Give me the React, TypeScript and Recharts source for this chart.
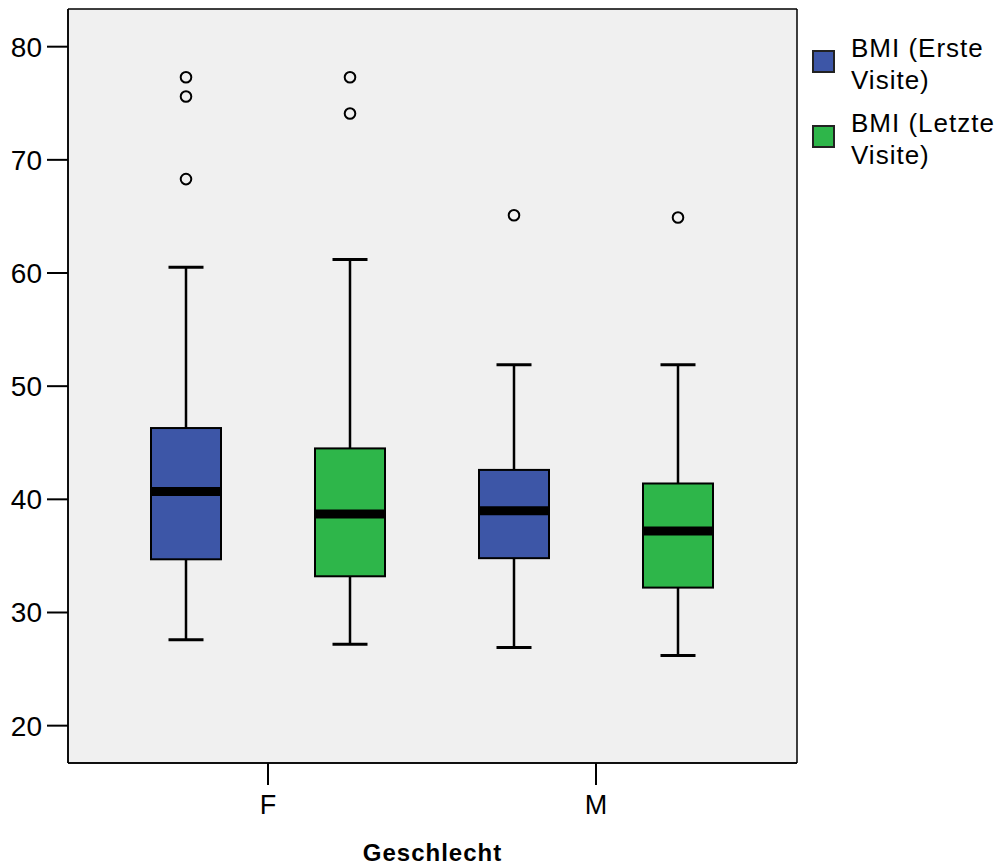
import React from 'react';
import { ComposedChart, Bar, XAxis, YAxis, CartesianGrid } from 'recharts';

// Geschlecht categories
const categories = ['F', 'M'];

// BMI (Erste Visite)
const ersteMin = [27.6, 26.9];
const ersteQ1 = [34.7, 34.8];
const ersteMedian = [40.7, 39.0];
const ersteQ3 = [46.3, 42.6];
const ersteMax = [60.5, 51.9];
const ersteOutliers = [[77.3, 75.6, 68.3], [65.1]];

// BMI (Letzte Visite)
const letzteMin = [27.2, 26.2];
const letzteQ1 = [33.2, 32.2];
const letzteMedian = [38.7, 37.2];
const letzteQ3 = [44.5, 41.4];
const letzteMax = [61.2, 51.9];
const letzteOutliers = [[77.3, 74.1], [64.9]];

const yTicks = [20, 30, 40, 50, 60, 70, 80];

const series = [
  { key: 'erste', label: ['BMI (Erste', 'Visite)'], color: '#3D56A7' },
  { key: 'letzte', label: ['BMI (Letzte', 'Visite)'], color: '#2EB64A' },
];

const FONT = '"Liberation Sans", Arial, sans-serif';

const stats = (min: number[], q1: number[], med: number[], q3: number[], max: number[], out: number[][], i: number) => ({
  min: min[i], q1: q1[i], median: med[i], q3: q3[i], max: max[i], outliers: out[i],
});

const data = categories.map((name, i) => {
  const erste = stats(ersteMin, ersteQ1, ersteMedian, ersteQ3, ersteMax, ersteOutliers, i);
  const letzte = stats(letzteMin, letzteQ1, letzteMedian, letzteQ3, letzteMax, letzteOutliers, i);
  return {
    name,
    erste,
    letzte,
    ersteRange: [erste.min, erste.max],
    letzteRange: [letzte.min, letzte.max],
  };
});

// draws one box plot; the bar spans min..max so values map linearly inside it
const BoxShape = (props: any) => {
  const { x, y, width, height, payload, seriesKey, fill } = props;
  const s = payload[seriesKey];
  const top = Math.min(y, y + height);
  const h = Math.abs(height);
  const py = (v: number) => top + ((s.max - v) * h) / (s.max - s.min);
  const cx = x + width / 2;
  const cap = width / 4;
  return (
    <g>
      <line x1={cx} x2={cx} y1={py(s.max)} y2={py(s.min)} stroke="#000" strokeWidth={2.5} />
      <line x1={cx - cap} x2={cx + cap} y1={py(s.max)} y2={py(s.max)} stroke="#000" strokeWidth={3} />
      <line x1={cx - cap} x2={cx + cap} y1={py(s.min)} y2={py(s.min)} stroke="#000" strokeWidth={3} />
      <rect x={x} y={py(s.q3)} width={width} height={py(s.q1) - py(s.q3)} fill={fill} stroke="#000" strokeWidth={2} />
      <line x1={x} x2={x + width} y1={py(s.median)} y2={py(s.median)} stroke="#000" strokeWidth={9} />
      {s.outliers.map((o: number, k: number) => (
        <circle key={k} cx={cx} cy={py(o)} r={5.3} fill="none" stroke="#000" strokeWidth={2} />
      ))}
    </g>
  );
};

const App = () => {
  return (
    <div style={{ position: 'absolute', left: 0, top: 0, width: 1004, height: 865, overflow: 'hidden', background: '#fff', fontFamily: FONT }}>
      <ComposedChart
        width={1004}
        height={865}
        data={data}
        barSize={70}
        barGap={94}
        margin={{ top: 9, right: 207, left: 0, bottom: 0 }}
      >
        <CartesianGrid
          fill="#F0F0F0"
          stroke="#000"
          strokeWidth={1.5}
          horizontalCoordinatesGenerator={({ offset }: any) => [offset.top, offset.top + offset.height]}
          verticalCoordinatesGenerator={({ offset }: any) => [offset.left, offset.left + offset.width]}
        />
        <XAxis
          dataKey="name"
          type="category"
          padding={{ left: 36, right: 37 }}
          height={102}
          tickSize={22}
          tickMargin={10}
          interval={0}
          axisLine={{ stroke: '#000', strokeWidth: 1.5 }}
          tickLine={{ stroke: '#000', strokeWidth: 2 }}
          tick={{ fill: '#000', fontSize: 27, fontFamily: FONT }}
          label={{ value: 'Geschlecht', position: 'insideBottom', offset: 4, fill: '#000', fontSize: 24, fontWeight: 'bold', fontFamily: FONT, letterSpacing: 1 }}
        />
        <YAxis
          type="number"
          domain={[16.7, 83.33]}
          allowDataOverflow
          ticks={yTicks}
          width={68}
          tickSize={21}
          tickMargin={5}
          axisLine={{ stroke: '#000', strokeWidth: 1.5 }}
          tickLine={{ stroke: '#000', strokeWidth: 2 }}
          tick={{ fill: '#000', fontSize: 28, fontFamily: FONT }}
        />
        {series.map((s) => (
          <Bar
            key={s.key}
            dataKey={`${s.key}Range`}
            fill={s.color}
            isAnimationActive={false}
            shape={(p: any) => <BoxShape {...p} seriesKey={s.key} fill={s.color} />}
          />
        ))}
      </ComposedChart>
      <div style={{ position: 'absolute', left: 812, top: 27 }}>
        {series.map((s) => (
          <div key={s.key} style={{ display: 'flex', alignItems: 'flex-start', height: 75 }}>
            <div style={{ width: 19, height: 19, marginTop: 23, background: s.color, border: '2px solid #222', marginRight: 16, flexShrink: 0 }} />
            <div style={{ marginTop: 5, fontSize: 26, lineHeight: '32px', letterSpacing: 1, color: '#000', whiteSpace: 'nowrap' }}>
              {s.label[0]}
              <br />
              {s.label[1]}
            </div>
          </div>
        ))}
      </div>
    </div>
  );
};

export default App;
